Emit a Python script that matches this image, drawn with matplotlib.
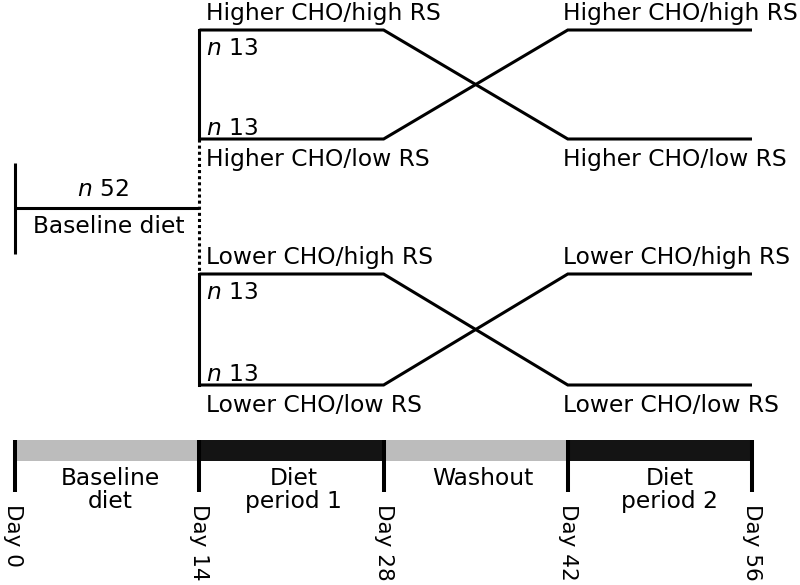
import matplotlib
matplotlib.use("Agg")
import matplotlib.pyplot as plt

plt.rcParams['font.family'] = ['DejaVu Sans']
plt.rcParams['mathtext.fontset'] = 'dejavusans'

# Study timeline (days) and period labels
days = [0, 14, 28, 42, 56]
period_labels = ["Baseline\ndiet", "Diet\nperiod 1", "Washout", "Diet\nperiod 2"]
period_colors = ["#bcbcbc", "#141414", "#bcbcbc", "#141414"]

# Randomised groups: labels of the two arms in each group, and sizes
baseline_label = "Baseline diet"
baseline_n = 52
group_arms = [("Higher CHO/high RS", "Higher CHO/low RS"),
              ("Lower CHO/high RS", "Lower CHO/low RS")]
group_n = [(13, 13), (13, 13)]

# layout (pixel rows, y axis inverted)
arm_rows = [(30, 139), (274, 385)]
period_nudge_px = [3, 2, 7, 10]
FS = 16.8
DAY_FS = 15.5
LW = 2.2
PX_PER_DAY = 13.157
X0 = 15.2

fig = plt.figure(figsize=(8, 5.85), dpi=100)
ax = fig.add_axes([0, 0, 1, 1])
ax.set_xlim(-X0 / PX_PER_DAY, (800 - X0) / PX_PER_DAY)
ax.set_ylim(585, 0)
ax.axis('off')

def pad(px):
    return px / PX_PER_DAY

##############################
# Baseline arm
##############################
ax.plot([days[0], days[0]], [163, 254], color='k', lw=LW, solid_capstyle='butt')
ax.plot([days[0], days[1]], [208, 208], color='k', lw=LW, solid_capstyle='butt')
mid = (days[0] + days[1]) / 2
ax.text(mid - pad(4), 196, r"$n$ %d" % baseline_n, fontsize=FS, ha='center', va='baseline')
ax.text(mid + pad(1), 233, baseline_label, fontsize=FS, ha='center', va='baseline')

# dotted split between the two groups
ax.plot([days[1], days[1]], [arm_rows[0][1], arm_rows[1][0]], color='k', lw=LW,
        linestyle=(0, (1, 1)), dash_capstyle='butt')

##############################
# Crossover groups
##############################
for (top, bot), (lab_hi, lab_lo), (n_top, n_bot) in zip(arm_rows, group_arms, group_n):
    ax.plot([days[1], days[1]], [top, bot], color='k', lw=LW, solid_capstyle='projecting')
    # arm starting on "high RS" then crossing over, and the reverse
    ax.plot([days[1], days[2], days[3], days[4]], [top, top, bot, bot],
            color='k', lw=LW, solid_capstyle='butt', solid_joinstyle='miter')
    ax.plot([days[1], days[2], days[3], days[4]], [bot, bot, top, top],
            color='k', lw=LW, solid_capstyle='butt', solid_joinstyle='miter')
    for d in (days[1] + pad(7), days[3] - pad(5)):
        ax.text(d, top - 10, lab_hi, fontsize=FS, ha='left', va='baseline')
        ax.text(d, bot + 27, lab_lo, fontsize=FS, ha='left', va='baseline')
    ax.text(days[1] + pad(7), top + 25, r"$n$ %d" % n_top, fontsize=FS, ha='left', va='baseline')
    ax.text(days[1] + pad(7), bot - 4, r"$n$ %d" % n_bot, fontsize=FS, ha='left', va='baseline')

##############################
# Timeline bar
##############################
starts = days[:-1]
widths = [b - a for a, b in zip(days[:-1], days[1:])]
ax.barh([450.5] * len(starts), widths, left=starts, height=21, color=period_colors, zorder=1)

for d in days:
    ax.plot([d, d], [440, 492], color='k', lw=2.9, solid_capstyle='butt', zorder=2)
    nudge = pad(-2) if d == days[0] else 0
    ax.text(d + nudge, 504, "Day %d" % d, fontsize=DAY_FS, rotation=-90,
            ha='center', va='top')

for a, b, lab, nud in zip(days[:-1], days[1:], period_labels, period_nudge_px):
    for i, line in enumerate(lab.split("\n")):
        ax.text((a + b) / 2 + pad(nud), 485 + 23 * i, line, fontsize=FS,
                ha='center', va='baseline')

fig.savefig("out.png", dpi=100)
